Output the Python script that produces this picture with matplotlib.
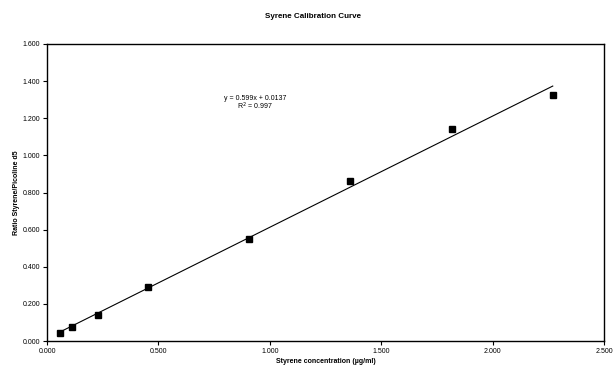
import matplotlib
matplotlib.use("Agg")
import matplotlib.pyplot as plt
import numpy as np

plt.rcParams['font.family'] = ['Liberation Sans', 'DejaVu Sans']

concentration = [0.057, 0.114, 0.227, 0.454, 0.908, 1.362, 1.816, 2.270]
ratio = [0.042, 0.076, 0.139, 0.293, 0.548, 0.860, 1.142, 1.326]
slope = 0.599
intercept = 0.0137
r2 = 0.997

x_ticks = [0.0, 0.5, 1.0, 1.5, 2.0, 2.5]
y_ticks = [0.0, 0.2, 0.4, 0.6, 0.8, 1.0, 1.2, 1.4, 1.6]

fig = plt.figure(figsize=(6.14, 3.69), dpi=100)
ax = fig.add_axes([47 / 614, 1 - 341 / 369, (604 - 47) / 614, (341 - 44) / 369])

ax.plot(concentration, ratio, linestyle='none', marker='s', markersize=4.2,
        color='black', zorder=3)
xfit = np.array([concentration[0], concentration[-1]])
ax.plot(xfit, slope * xfit + intercept, color='black', linewidth=0.8, zorder=2)

ax.set_xlim(0, 2.5)
ax.set_ylim(0, 1.6)
ax.set_xticks(x_ticks)
ax.set_yticks(y_ticks)
ax.set_xticklabels([f"{v:.3f}" for v in x_ticks])
ax.set_yticklabels([f"{v:.3f}" for v in y_ticks])
ax.tick_params(axis='both', direction='out', length=3, width=0.8,
               labelsize=5, colors='black', pad=2)
for s in ax.spines.values():
    s.set_linewidth(1.0)
    s.set_color('black')

ax.text(0.934, 1.309, f"y = {slope}x + {intercept}", fontsize=5,
        ha='center', va='center')
ax.text(0.934, 1.262, f"R$^2$ = {r2}", fontsize=5, ha='center', va='center')

ax.set_xlabel("Styrene concentration (µg/ml)", fontsize=5, fontweight='bold',
              labelpad=2.5)
ax.set_ylabel("Ratio Styrene/Picoline d5", fontsize=5, fontweight='bold',
              labelpad=1.5)
fig.text(313 / 614, 1 - 17 / 369, "Syrene Calibration Curve", fontsize=5.8,
         fontweight='bold', ha='center', va='center')

fig.savefig("out.png", dpi=100)
